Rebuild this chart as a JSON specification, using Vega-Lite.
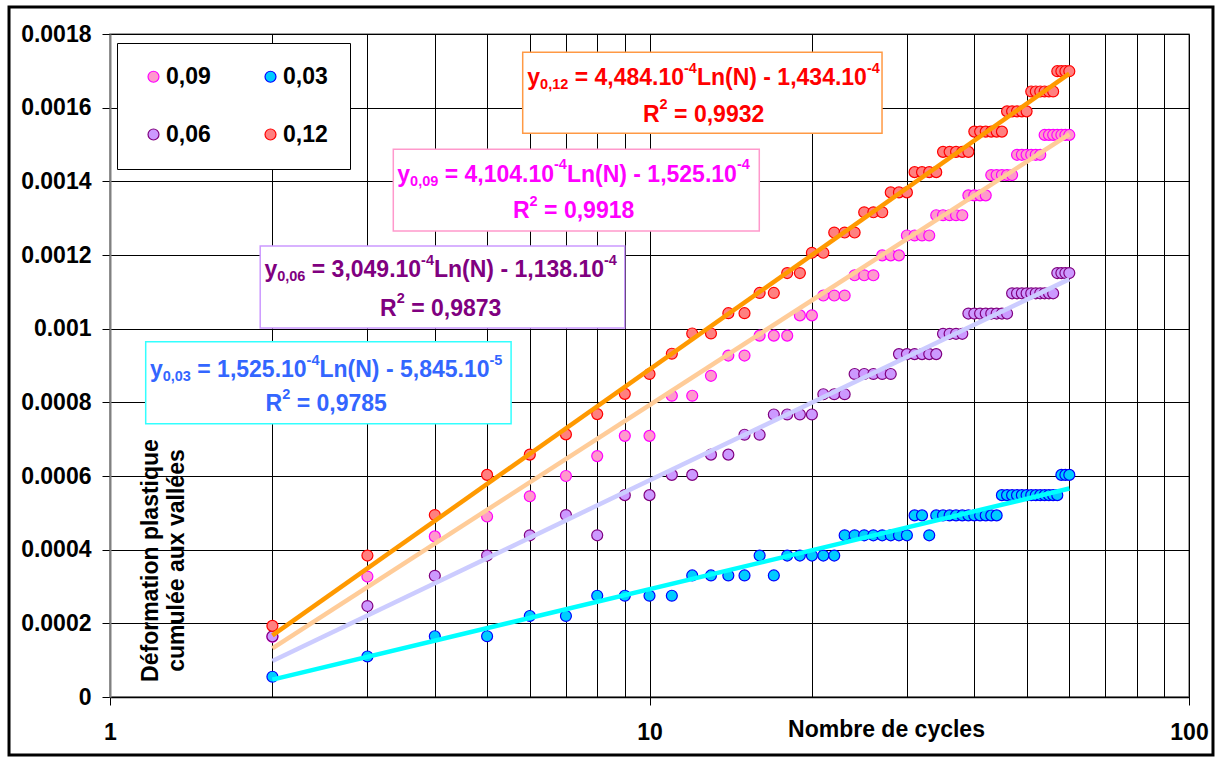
{
"$schema": "https://vega.github.io/schema/vega-lite/v6.json",
"width": 1079, "height": 663,
"autosize": {"type": "none"},
"padding": {"left": 110, "top": 34, "right": 32, "bottom": 61},
"background": "white",
"config": {
 "font": "Liberation Sans",
 "view": {"stroke": "#808080", "strokeWidth": 1.5},
 "axis": {"labelFont": "Liberation Sans", "labelFontWeight": "bold", "labelFontSize": 23, "labelColor": "#000",
  "titleFont": "Liberation Sans", "titleFontWeight": "bold", "titleFontSize": 23, "titleColor": "#000",
  "tickColor": "#000", "tickSize": 8, "tickWidth": 1, "gridColor": "#000", "gridWidth": 1, "gridOpacity": 1, "labelFlush": false, "labelOverlap": false}
},
"datasets": {
"frame": [{"N": 0.64985, "N2": 110.78, "v": 0.0018733, "v2": -0.000157466}],
"boxes": [
 {"s": "0,12", "N": 5.8206, "N2": 26.978, "v": 0.00175032, "v2": 0.00153041},
 {"s": "0,09", "N": 3.3505, "N2": 15.977, "v": 0.00148697, "v2": 0.00126516},
 {"s": "0,06", "N": 1.8985, "N2": 8.9976, "v": 0.00122443, "v2": 0.00100181},
 {"s": "0,03", "N": 1.1646, "N2": 5.5394, "v": 0.00096461, "v2": 0.00074172}
],
"trend": [
 {"s": "0,09", "N": 2, "v": 0.000131968}, {"s": "0,09", "N": 60, "v": 0.001527819},
 {"s": "0,03", "N": 2, "v": 0.000047255}, {"s": "0,03", "N": 60, "v": 0.000565938},
 {"s": "0,06", "N": 2, "v": 0.000097541}, {"s": "0,06", "N": 60, "v": 0.001134566},
 {"s": "0,12", "N": 2, "v": 0.000167407}, {"s": "0,12", "N": 60, "v": 0.001692504}
],
"eq": [
 {"s": "0,12", "k": "m", "t": "y", "N": 5.936, "v": 0.00166154},
 {"s": "0,12", "k": "s", "t": "0,12", "N": 6.2691, "v": 0.00165068},
 {"s": "0,12", "k": "m", "t": "= 4,484.10", "N": 7.2664, "v": 0.00166154},
 {"s": "0,12", "k": "s", "t": "-4", "N": 11.587, "v": 0.00169491},
 {"s": "0,12", "k": "m", "t": "Ln(N) - 1,434.10", "N": 12.242, "v": 0.00166154},
 {"s": "0,12", "k": "s", "t": "-4", "N": 25.293, "v": 0.00169491},
 {"s": "0,12", "k": "m", "t": "R", "N": 9.7264, "v": 0.00156188},
 {"s": "0,12", "k": "s", "t": "2", "N": 10.4405, "v": 0.00159528},
 {"s": "0,12", "k": "m", "t": "= 0,9932", "N": 11.1065, "v": 0.00156188},
 {"s": "0,09", "k": "m", "t": "y", "N": 3.408, "v": 0.001399},
 {"s": "0,09", "k": "s", "t": "0,09", "N": 3.5994, "v": 0.00138814},
 {"s": "0,09", "k": "m", "t": "= 4,104.10", "N": 4.172, "v": 0.001399},
 {"s": "0,09", "k": "s", "t": "-4", "N": 6.6522, "v": 0.0014324},
 {"s": "0,09", "k": "m", "t": "Ln(N) - 1,525.10", "N": 7.0287, "v": 0.001399},
 {"s": "0,09", "k": "s", "t": "-4", "N": 14.521, "v": 0.0014324},
 {"s": "0,09", "k": "m", "t": "R", "N": 5.5845, "v": 0.00129964},
 {"s": "0,09", "k": "s", "t": "2", "N": 5.9946, "v": 0.00133303},
 {"s": "0,09", "k": "m", "t": "= 0,9918", "N": 6.3773, "v": 0.00129964},
 {"s": "0,06", "k": "m", "t": "y", "N": 1.933, "v": 0.00114},
 {"s": "0,06", "k": "s", "t": "0,06", "N": 2.0413, "v": 0.00112914},
 {"s": "0,06", "k": "m", "t": "= 3,049.10", "N": 2.366, "v": 0.00114},
 {"s": "0,06", "k": "s", "t": "-4", "N": 3.7726, "v": 0.00117339},
 {"s": "0,06", "k": "m", "t": "Ln(N) - 1,138.10", "N": 3.9862, "v": 0.00114},
 {"s": "0,06", "k": "s", "t": "-4", "N": 8.235, "v": 0.00117339},
 {"s": "0,06", "k": "m", "t": "R", "N": 3.167, "v": 0.00103548},
 {"s": "0,06", "k": "s", "t": "2", "N": 3.3995, "v": 0.00106887},
 {"s": "0,06", "k": "m", "t": "= 0,9873", "N": 3.6165, "v": 0.00103548},
 {"s": "0,03", "k": "m", "t": "y", "N": 1.1859, "v": 0.00086905},
 {"s": "0,03", "k": "s", "t": "0,03", "N": 1.25217, "v": 0.00085819},
 {"s": "0,03", "k": "m", "t": "= 1,525.10", "N": 1.45133, "v": 0.00086905},
 {"s": "0,03", "k": "s", "t": "-4", "N": 2.3143, "v": 0.00090244},
 {"s": "0,03", "k": "m", "t": "Ln(N) - 5,845.10", "N": 2.4452, "v": 0.00086905},
 {"s": "0,03", "k": "s", "t": "-5", "N": 5.0516, "v": 0.00090244},
 {"s": "0,03", "k": "m", "t": "R", "N": 1.9427, "v": 0.00077647},
 {"s": "0,03", "k": "s", "t": "2", "N": 2.0854, "v": 0.00080987},
 {"s": "0,03", "k": "m", "t": "= 0,9785", "N": 2.2185, "v": 0.00077647}
],
"pts": [
{"s":"0,09","N":2,"v":0.0001635},{"s":"0,09","N":3,"v":0.000327},{"s":"0,09","N":4,"v":0.000436},{"s":"0,09","N":5,"v":0.00049},{"s":"0,09","N":6,"v":0.000545},{"s":"0,09","N":7,"v":0.0006},{"s":"0,09","N":8,"v":0.000654},{"s":"0,09","N":9,"v":0.000709},{"s":"0,09","N":10,"v":0.000709},{"s":"0,09","N":11,"v":0.000818},{"s":"0,09","N":12,"v":0.000818},{"s":"0,09","N":13,"v":0.000872},{"s":"0,09","N":14,"v":0.000927},{"s":"0,09","N":15,"v":0.000927},{"s":"0,09","N":16,"v":0.000981},{"s":"0,09","N":17,"v":0.000981},{"s":"0,09","N":18,"v":0.000981},{"s":"0,09","N":19,"v":0.001036},{"s":"0,09","N":20,"v":0.001036},{"s":"0,09","N":21,"v":0.00109},{"s":"0,09","N":22,"v":0.00109},{"s":"0,09","N":23,"v":0.00109},{"s":"0,09","N":24,"v":0.001145},{"s":"0,09","N":25,"v":0.001145},{"s":"0,09","N":26,"v":0.001145},{"s":"0,09","N":27,"v":0.001199},{"s":"0,09","N":28,"v":0.001199},{"s":"0,09","N":29,"v":0.001199},{"s":"0,09","N":30,"v":0.001253},{"s":"0,09","N":31,"v":0.001253},{"s":"0,09","N":32,"v":0.001253},{"s":"0,09","N":33,"v":0.001253},{"s":"0,09","N":34,"v":0.001308},{"s":"0,09","N":35,"v":0.001308},{"s":"0,09","N":36,"v":0.001308},{"s":"0,09","N":37,"v":0.001308},{"s":"0,09","N":38,"v":0.001308},{"s":"0,09","N":39,"v":0.001362},{"s":"0,09","N":40,"v":0.001362},{"s":"0,09","N":41,"v":0.001362},{"s":"0,09","N":42,"v":0.001362},{"s":"0,09","N":43,"v":0.001417},{"s":"0,09","N":44,"v":0.001417},{"s":"0,09","N":45,"v":0.001417},{"s":"0,09","N":46,"v":0.001417},{"s":"0,09","N":47,"v":0.001417},{"s":"0,09","N":48,"v":0.001472},{"s":"0,09","N":49,"v":0.001472},{"s":"0,09","N":50,"v":0.001472},{"s":"0,09","N":51,"v":0.001472},{"s":"0,09","N":52,"v":0.001472},{"s":"0,09","N":53,"v":0.001472},{"s":"0,09","N":54,"v":0.001526},{"s":"0,09","N":55,"v":0.001526},{"s":"0,09","N":56,"v":0.001526},{"s":"0,09","N":57,"v":0.001526},{"s":"0,09","N":58,"v":0.001526},{"s":"0,09","N":59,"v":0.001526},{"s":"0,09","N":60,"v":0.001526},
{"s":"0,03","N":2,"v":0.000055},{"s":"0,03","N":3,"v":0.00011},{"s":"0,03","N":4,"v":0.000165},{"s":"0,03","N":5,"v":0.000165},{"s":"0,03","N":6,"v":0.00022},{"s":"0,03","N":7,"v":0.00022},{"s":"0,03","N":8,"v":0.000275},{"s":"0,03","N":9,"v":0.000275},{"s":"0,03","N":10,"v":0.000275},{"s":"0,03","N":11,"v":0.000275},{"s":"0,03","N":12,"v":0.00033},{"s":"0,03","N":13,"v":0.00033},{"s":"0,03","N":14,"v":0.00033},{"s":"0,03","N":15,"v":0.00033},{"s":"0,03","N":16,"v":0.000384},{"s":"0,03","N":17,"v":0.00033},{"s":"0,03","N":18,"v":0.000384},{"s":"0,03","N":19,"v":0.000384},{"s":"0,03","N":20,"v":0.000384},{"s":"0,03","N":21,"v":0.000384},{"s":"0,03","N":22,"v":0.000384},{"s":"0,03","N":23,"v":0.000439},{"s":"0,03","N":24,"v":0.000439},{"s":"0,03","N":25,"v":0.000439},{"s":"0,03","N":26,"v":0.000439},{"s":"0,03","N":27,"v":0.000439},{"s":"0,03","N":28,"v":0.000439},{"s":"0,03","N":29,"v":0.000439},{"s":"0,03","N":30,"v":0.000439},{"s":"0,03","N":31,"v":0.000493},{"s":"0,03","N":32,"v":0.000493},{"s":"0,03","N":33,"v":0.000439},{"s":"0,03","N":34,"v":0.000493},{"s":"0,03","N":35,"v":0.000493},{"s":"0,03","N":36,"v":0.000493},{"s":"0,03","N":37,"v":0.000493},{"s":"0,03","N":38,"v":0.000493},{"s":"0,03","N":39,"v":0.000493},{"s":"0,03","N":40,"v":0.000493},{"s":"0,03","N":41,"v":0.000493},{"s":"0,03","N":42,"v":0.000493},{"s":"0,03","N":43,"v":0.000493},{"s":"0,03","N":44,"v":0.000493},{"s":"0,03","N":45,"v":0.000548},{"s":"0,03","N":46,"v":0.000548},{"s":"0,03","N":47,"v":0.000548},{"s":"0,03","N":48,"v":0.000548},{"s":"0,03","N":49,"v":0.000548},{"s":"0,03","N":50,"v":0.000548},{"s":"0,03","N":51,"v":0.000548},{"s":"0,03","N":52,"v":0.000548},{"s":"0,03","N":53,"v":0.000548},{"s":"0,03","N":54,"v":0.000548},{"s":"0,03","N":55,"v":0.000548},{"s":"0,03","N":56,"v":0.000548},{"s":"0,03","N":57,"v":0.000548},{"s":"0,03","N":58,"v":0.000603},{"s":"0,03","N":59,"v":0.000603},{"s":"0,03","N":60,"v":0.000603},
{"s":"0,06","N":2,"v":0.0001645},{"s":"0,06","N":3,"v":0.000247},{"s":"0,06","N":4,"v":0.000329},{"s":"0,06","N":5,"v":0.000384},{"s":"0,06","N":6,"v":0.000439},{"s":"0,06","N":7,"v":0.000494},{"s":"0,06","N":8,"v":0.000439},{"s":"0,06","N":9,"v":0.000548},{"s":"0,06","N":10,"v":0.000548},{"s":"0,06","N":11,"v":0.000603},{"s":"0,06","N":12,"v":0.000603},{"s":"0,06","N":13,"v":0.000658},{"s":"0,06","N":14,"v":0.000658},{"s":"0,06","N":15,"v":0.000712},{"s":"0,06","N":16,"v":0.000712},{"s":"0,06","N":17,"v":0.000767},{"s":"0,06","N":18,"v":0.000767},{"s":"0,06","N":19,"v":0.000767},{"s":"0,06","N":20,"v":0.000767},{"s":"0,06","N":21,"v":0.000822},{"s":"0,06","N":22,"v":0.000822},{"s":"0,06","N":23,"v":0.000822},{"s":"0,06","N":24,"v":0.000877},{"s":"0,06","N":25,"v":0.000877},{"s":"0,06","N":26,"v":0.000877},{"s":"0,06","N":27,"v":0.000877},{"s":"0,06","N":28,"v":0.000877},{"s":"0,06","N":29,"v":0.000931},{"s":"0,06","N":30,"v":0.000931},{"s":"0,06","N":31,"v":0.000931},{"s":"0,06","N":32,"v":0.000931},{"s":"0,06","N":33,"v":0.000931},{"s":"0,06","N":34,"v":0.000931},{"s":"0,06","N":35,"v":0.000986},{"s":"0,06","N":36,"v":0.000986},{"s":"0,06","N":37,"v":0.000986},{"s":"0,06","N":38,"v":0.000986},{"s":"0,06","N":39,"v":0.001041},{"s":"0,06","N":40,"v":0.001041},{"s":"0,06","N":41,"v":0.001041},{"s":"0,06","N":42,"v":0.001041},{"s":"0,06","N":43,"v":0.001041},{"s":"0,06","N":44,"v":0.001041},{"s":"0,06","N":45,"v":0.001041},{"s":"0,06","N":46,"v":0.001041},{"s":"0,06","N":47,"v":0.001096},{"s":"0,06","N":48,"v":0.001096},{"s":"0,06","N":49,"v":0.001096},{"s":"0,06","N":50,"v":0.001096},{"s":"0,06","N":51,"v":0.001096},{"s":"0,06","N":52,"v":0.001096},{"s":"0,06","N":53,"v":0.001096},{"s":"0,06","N":54,"v":0.001096},{"s":"0,06","N":55,"v":0.001096},{"s":"0,06","N":56,"v":0.001096},{"s":"0,06","N":57,"v":0.001151},{"s":"0,06","N":58,"v":0.001151},{"s":"0,06","N":59,"v":0.001151},{"s":"0,06","N":60,"v":0.001151},
{"s":"0,12","N":2,"v":0.000193},{"s":"0,12","N":3,"v":0.000384},{"s":"0,12","N":4,"v":0.000494},{"s":"0,12","N":5,"v":0.000603},{"s":"0,12","N":6,"v":0.000658},{"s":"0,12","N":7,"v":0.000713},{"s":"0,12","N":8,"v":0.000768},{"s":"0,12","N":9,"v":0.000823},{"s":"0,12","N":10,"v":0.000877},{"s":"0,12","N":11,"v":0.000932},{"s":"0,12","N":12,"v":0.000987},{"s":"0,12","N":13,"v":0.000987},{"s":"0,12","N":14,"v":0.001042},{"s":"0,12","N":15,"v":0.001042},{"s":"0,12","N":16,"v":0.001097},{"s":"0,12","N":17,"v":0.001097},{"s":"0,12","N":18,"v":0.001151},{"s":"0,12","N":19,"v":0.001151},{"s":"0,12","N":20,"v":0.001206},{"s":"0,12","N":21,"v":0.001206},{"s":"0,12","N":22,"v":0.001261},{"s":"0,12","N":23,"v":0.001261},{"s":"0,12","N":24,"v":0.001261},{"s":"0,12","N":25,"v":0.001316},{"s":"0,12","N":26,"v":0.001316},{"s":"0,12","N":27,"v":0.001316},{"s":"0,12","N":28,"v":0.00137},{"s":"0,12","N":29,"v":0.00137},{"s":"0,12","N":30,"v":0.00137},{"s":"0,12","N":31,"v":0.001425},{"s":"0,12","N":32,"v":0.001425},{"s":"0,12","N":33,"v":0.001425},{"s":"0,12","N":34,"v":0.001425},{"s":"0,12","N":35,"v":0.00148},{"s":"0,12","N":36,"v":0.00148},{"s":"0,12","N":37,"v":0.00148},{"s":"0,12","N":38,"v":0.00148},{"s":"0,12","N":39,"v":0.00148},{"s":"0,12","N":40,"v":0.001535},{"s":"0,12","N":41,"v":0.001535},{"s":"0,12","N":42,"v":0.001535},{"s":"0,12","N":43,"v":0.001535},{"s":"0,12","N":44,"v":0.001535},{"s":"0,12","N":45,"v":0.001535},{"s":"0,12","N":46,"v":0.00159},{"s":"0,12","N":47,"v":0.00159},{"s":"0,12","N":48,"v":0.00159},{"s":"0,12","N":49,"v":0.00159},{"s":"0,12","N":50,"v":0.00159},{"s":"0,12","N":51,"v":0.001644},{"s":"0,12","N":52,"v":0.001644},{"s":"0,12","N":53,"v":0.001644},{"s":"0,12","N":54,"v":0.001644},{"s":"0,12","N":55,"v":0.001644},{"s":"0,12","N":56,"v":0.001644},{"s":"0,12","N":57,"v":0.001699},{"s":"0,12","N":58,"v":0.001699},{"s":"0,12","N":59,"v":0.001699},{"s":"0,12","N":60,"v":0.001699}
]
},
"encoding": {
 "x": {"field": "N", "type": "quantitative",
  "scale": {"type": "log", "domain": [1, 100], "nice": false},
  "axis": {"values": [1,2,3,4,5,6,7,8,9,10,20,30,40,50,60,70,80,90,100],
   "labelExpr": "(datum.value == 1 || datum.value == 10 || datum.value == 100) ? datum.label : ''",
   "tickOpacity": {"condition": {"test": "datum.value == 1 || datum.value == 10 || datum.value == 100", "value": 1}, "value": 0},
   "labelPadding": 16, "domainColor": "#000", "domainWidth": 1.5,
   "title": "Nombre de cycles", "titleX": 776, "titleY": 39, "titleBaseline": "alphabetic", "titleAlign": "center", "titleAnchor": null}},
 "y": {"field": "v", "type": "quantitative",
  "scale": {"domain": [0, 0.0018], "nice": false, "zero": false},
  "axis": {"values": [0,0.0002,0.0004,0.0006,0.0008,0.001,0.0012,0.0014,0.0016,0.0018], "format": "~g",
   "labelPadding": 11, "domainColor": "#808080", "domainWidth": 2,
   "title": ["Déformation plastique", "cumulée aux vallées"], "titleX": 40, "titleY": 526, "titleAngle": 270,
   "titleBaseline": "middle", "titleAlign": "center", "titleLineHeight": 26, "titleAnchor": null}}
},
"layer": [
 {"data": {"name": "frame"}, "mark": {"type": "rect", "fill": null, "fillOpacity": 0, "stroke": "#000", "strokeWidth": 3},
  "encoding": {"x2": {"field": "N2"}, "y2": {"field": "v2"}}},
 {"data": {"name": "boxes"}, "mark": {"type": "rect", "fill": "white", "strokeWidth": 1.5},
  "encoding": {"x2": {"field": "N2"}, "y2": {"field": "v2"},
   "stroke": {"field": "s", "type": "nominal", "legend": null,
    "scale": {"domain": ["0,09","0,03","0,06","0,12"], "range": ["#FF99CC","#33FFFF","#CC99FF","#FF9944"]}}}},
 {"data": {"name": "pts"}, "mark": {"type": "point", "shape": "circle", "filled": true, "size": 120, "strokeWidth": 1.2, "opacity": 1},
  "encoding": {
   "fill": {"field": "s", "type": "nominal",
    "scale": {"domain": ["0,09","0,03","0,06","0,12"], "range": ["#FF99CC","#00CCFF","#CC99FF","#FF8080"]},
    "legend": {"orient": "none", "legendX": 7, "legendY": 9, "columns": 2, "direction": "horizontal", "title": null, "padding": 22, "rowPadding": 34, "columnPadding": 45,
     "symbolOffset": 3, "labelOffset": 1, "labelFont": "Liberation Sans", "labelFontSize": 23, "labelFontWeight": "bold", "labelColor": "#000",
     "symbolType": "circle", "symbolSize": 120, "symbolStrokeWidth": 1.2, "strokeColor": "#000", "fillColor": "#fff", "symbolOpacity": 1}},
   "stroke": {"field": "s", "type": "nominal",
    "scale": {"domain": ["0,09","0,03","0,06","0,12"], "range": ["#FF00FF","#0000FF","#800080","#FF0000"]},
    "legend": {"orient": "none", "legendX": 7, "legendY": 9, "columns": 2, "direction": "horizontal", "title": null, "padding": 22, "rowPadding": 34, "columnPadding": 45,
     "symbolOffset": 3, "labelOffset": 1, "labelFont": "Liberation Sans", "labelFontSize": 23, "labelFontWeight": "bold", "labelColor": "#000",
     "symbolType": "circle", "symbolSize": 120, "symbolStrokeWidth": 1.2, "strokeColor": "#000", "fillColor": "#fff", "symbolOpacity": 1}}
  }},
 {"data": {"name": "trend"}, "mark": {"type": "line", "strokeWidth": 4.5, "strokeCap": "butt"},
  "encoding": {"color": {"field": "s", "type": "nominal", "legend": null,
   "scale": {"domain": ["0,09","0,03","0,06","0,12"], "range": ["#FFCC99","#00FFFF","#CCCCFF","#FF9900"]}}}},
 {"data": {"name": "eq"}, "transform": [{"filter": "datum.k == 'm'"}],
  "mark": {"type": "text", "align": "left", "baseline": "alphabetic", "font": "Liberation Sans", "fontSize": 23, "fontWeight": "bold"},
  "encoding": {"text": {"field": "t"}, "color": {"field": "s", "type": "nominal", "legend": null,
   "scale": {"domain": ["0,09","0,03","0,06","0,12"], "range": ["#FF00FF","#3366FF","#800080","#FF0000"]}}}},
 {"data": {"name": "eq"}, "transform": [{"filter": "datum.k == 's'"}],
  "mark": {"type": "text", "align": "left", "baseline": "alphabetic", "font": "Liberation Sans", "fontSize": 14.5, "fontWeight": "bold"},
  "encoding": {"text": {"field": "t"}, "color": {"field": "s", "type": "nominal", "legend": null,
   "scale": {"domain": ["0,09","0,03","0,06","0,12"], "range": ["#FF00FF","#3366FF","#800080","#FF0000"]}}}}
],
"resolve": {"scale": {"color": "independent", "stroke": "independent", "fill": "independent"}}
}
